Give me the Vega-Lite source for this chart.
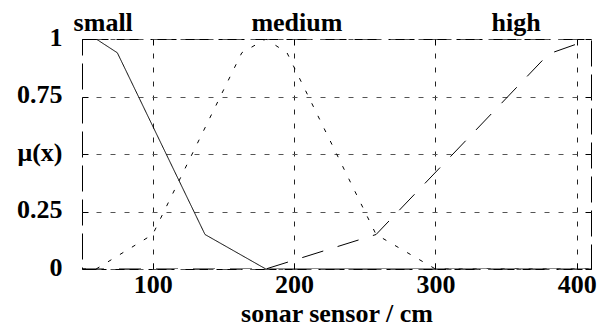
{
  "$schema": "https://vega.github.io/schema/vega-lite/v6.json",
  "width": 509,
  "height": 230,
  "autosize": {"type": "none"},
  "padding": {"left": 82, "top": 39, "right": 13, "bottom": 58},
  "config": {
    "view": {"stroke": "black", "strokeWidth": 1, "strokeDash": [26, 8]},
    "font": "'Liberation Serif', 'Times New Roman', serif"
  },
  "datasets": {
    "curves": [
      {"set": "small", "x": 50, "mu": 1},
      {"set": "small", "x": 60, "mu": 1},
      {"set": "small", "x": 75, "mu": 0.94},
      {"set": "small", "x": 137, "mu": 0.15},
      {"set": "small", "x": 180, "mu": 0},
      {"set": "small", "x": 410, "mu": 0},
      {"set": "medium", "x": 50, "mu": 0},
      {"set": "medium", "x": 60, "mu": 0},
      {"set": "medium", "x": 100, "mu": 0.15},
      {"set": "medium", "x": 163, "mu": 0.94},
      {"set": "medium", "x": 180, "mu": 1},
      {"set": "medium", "x": 195, "mu": 0.94},
      {"set": "medium", "x": 258, "mu": 0.15},
      {"set": "medium", "x": 300, "mu": 0},
      {"set": "medium", "x": 410, "mu": 0},
      {"set": "high", "x": 50, "mu": 0},
      {"set": "high", "x": 180, "mu": 0},
      {"set": "high", "x": 258, "mu": 0.15},
      {"set": "high", "x": 380, "mu": 0.935},
      {"set": "high", "x": 410, "mu": 1}
    ],
    "labels": [
      {"text": "small", "x": 65, "mu": 1.033},
      {"text": "medium", "x": 202, "mu": 1.033},
      {"text": "high", "x": 357, "mu": 1.033}
    ]
  },
  "layer": [
    {
      "data": {"name": "curves"},
      "mark": {"type": "line", "color": "black", "strokeWidth": 1, "clip": true},
      "encoding": {
        "x": {
          "field": "x", "type": "quantitative",
          "scale": {"domain": [50, 410], "nice": false, "zero": false},
          "axis": {
            "orient": "bottom",
            "values": [100, 200, 300, 400],
            "format": "d",
            "grid": true, "gridDash": [5, 9], "gridColor": "#222", "gridWidth": 1,
            "domain": false,
            "tickSize": -6, "tickColor": "black",
            "labelFont": "'Liberation Serif', 'Times New Roman', serif", "labelFontSize": 26, "labelFontWeight": "bold", "labelColor": "black",
            "labelPadding": 8,
            "title": "sonar sensor / cm",
            "titleFont": "'Liberation Serif', 'Times New Roman', serif", "titleFontSize": 26, "titleFontWeight": "bold", "titleColor": "black",
            "titlePadding": 3
          }
        },
        "y": {
          "field": "mu", "type": "quantitative",
          "scale": {"domain": [0, 1], "nice": false},
          "axis": {
            "orient": "left",
            "values": [0, 0.25, 0.5, 0.75, 1],
            "labelExpr": "datum.value == 0 ? '0' : datum.value == 1 ? '1' : datum.value == 0.5 ? 'μ(x)' : format(datum.value, '.2f')",
            "grid": true, "gridDash": [5, 9], "gridColor": "#555", "gridWidth": 1,
            "domain": false,
            "tickSize": -6, "tickColor": "black",
            "labelFont": "'Liberation Serif', 'Times New Roman', serif", "labelFontSize": 26, "labelFontWeight": "bold", "labelColor": "black",
            "labelPadding": 26, "labelOffset": -2,
            "title": null
          }
        },
        "strokeDash": {
          "field": "set", "type": "nominal",
          "scale": {"domain": ["small", "medium", "high"], "range": [[1, 0], [4, 10], [22, 15]]},
          "legend": null
        }
      }
    },
    {
      "data": {"name": "labels"},
      "mark": {"type": "text", "fontSize": 26, "fontWeight": "bold", "font": "'Liberation Serif', 'Times New Roman', serif", "baseline": "alphabetic", "align": "center", "color": "black", "clip": false},
      "encoding": {
        "x": {
          "field": "x", "type": "quantitative",
          "axis": {"orient": "top", "values": [100, 200, 300, 400], "labels": false, "grid": false, "domain": false, "tickSize": -6, "tickColor": "black", "title": null}
        },
        "y": {
          "field": "mu", "type": "quantitative",
          "axis": {"orient": "right", "values": [0, 0.25, 0.5, 0.75, 1], "labels": false, "grid": false, "domain": false, "tickSize": -6, "tickColor": "black", "title": null}
        },
        "text": {"field": "text"}
      }
    }
  ],
  "resolve": {"axis": {"x": "independent", "y": "independent"}}
}
